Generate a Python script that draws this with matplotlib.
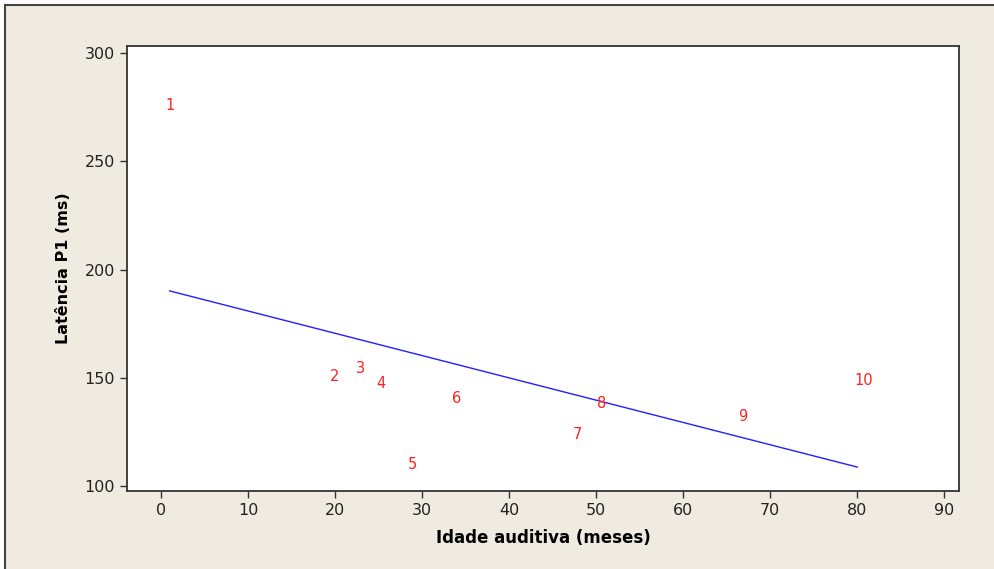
import numpy as np
import matplotlib
matplotlib.use("Agg")
import matplotlib.pyplot as plt
from matplotlib.patches import Rectangle

# dados
idade = [1.0, 20.0, 22.9, 25.3, 28.9, 34.0, 47.8, 50.6, 66.9, 80.8]
latencia = [275.6, 150.7, 154.4, 147.5, 110.1, 140.6, 124.0, 138.2, 132.3, 148.8]
rotulos = ["1", "2", "3", "4", "5", "6", "7", "8", "9", "10"]
xticks = [0, 10, 20, 30, 40, 50, 60, 70, 80, 90]
yticks = [100, 150, 200, 250, 300]

bege = "#efebe0"
fig = plt.figure(figsize=(9.95, 5.69), dpi=100, facecolor="white")
fundo = Rectangle((5 / 995, -0.1), 1.2, 1 - 5 / 569 + 0.1,
                  transform=fig.transFigure, facecolor=bege,
                  edgecolor="#444444", linewidth=1.5, zorder=-10)
fig.add_artist(fundo)

ax = fig.add_axes([127 / 995, 1 - 491 / 569, (959 - 127) / 995, (491 - 46) / 569])
ax.set_zorder(1)
ax.set_facecolor("white")
for s in ax.spines.values():
    s.set_color("#333333")
    s.set_linewidth(1.3)

for x, y, t in zip(idade, latencia, rotulos):
    ax.text(x, y, t, color="#ff2020", fontsize=10.5, ha="center", va="center")

# reta de regressao
coef = np.polyfit(idade, latencia, 1)
xr = np.array([min(idade), 80.0])
ax.plot(xr, np.polyval(coef, xr), color="#2020ff", linewidth=1)

ax.set_xlim(-3.9, 91.7)
ax.set_ylim(97.7, 303.3)
ax.set_xticks(xticks)
ax.set_yticks(yticks)
ax.tick_params(direction="out", length=5, width=1, color="#333333",
               labelsize=11.5, labelcolor="#222222")
ax.set_xlabel("Idade auditiva (meses)", fontsize=12, fontweight="bold", labelpad=8)
ax.set_ylabel("Latência P1 (ms)", fontsize=11.5, fontweight="bold", labelpad=10)

fig.savefig("out.png", dpi=100, facecolor=fig.get_facecolor())
